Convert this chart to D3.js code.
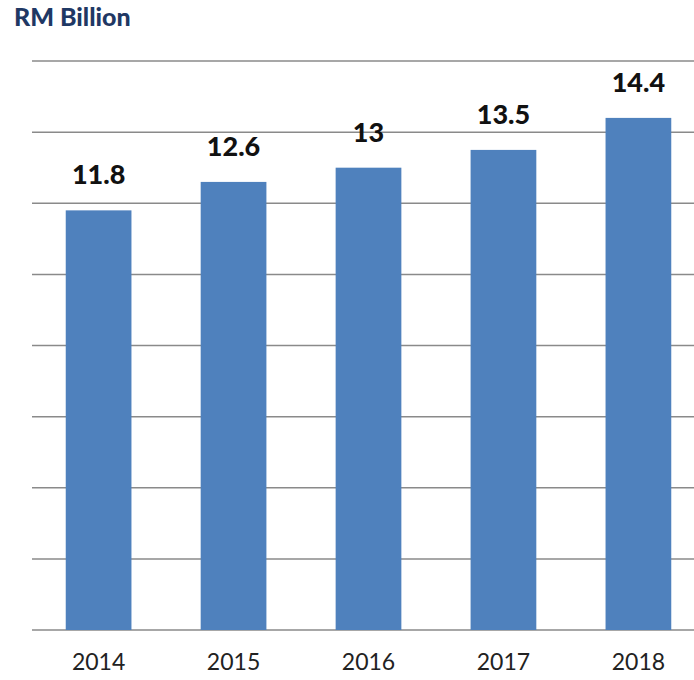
<!DOCTYPE html>
<html>
<head>
<meta charset="utf-8">
<script src="https://cdn.jsdelivr.net/npm/d3@7"></script>
<style>
  body { margin: 0; background: #fff; }
  #chart { width: 694px; height: 680px; }
</style>
</head>
<body>
<div id="chart"></div>
<script>
// data
var years = ["2014", "2015", "2016", "2017", "2018"];
var values = [11.8, 12.6, 13, 13.5, 14.4];
var gridTicks = [0, 2, 4, 6, 8, 10, 12, 14, 16];
var unitLabel = "RM Billion";

var width = 694, height = 680;
var margin = { top: 61, right: -11, bottom: 50, left: 32 };

var svg = d3.select("#chart")
  .append("svg")
  .attr("width", width)
  .attr("height", height);

// title
svg.append("text")
  .attr("x", 14)
  .attr("y", 26)
  .style("font-family", "Lato, 'Open Sans', sans-serif")
  .style("font-weight", "900")
  .style("font-size", "25px")
  .style("fill", "#1f3864")
  .text(unitLabel);

var x = d3.scaleBand()
  .domain(years)
  .range([margin.left, width - margin.right])
  .paddingInner(0.513)
  .paddingOuter(0.25);

var y = d3.scaleLinear()
  .domain([0, 16])
  .range([height - margin.bottom, margin.top]);

// gridlines
svg.append("g")
  .selectAll("line")
  .data(gridTicks)
  .enter()
  .append("line")
  .attr("x1", margin.left)
  .attr("x2", width)
  .attr("y1", function (d) { return y(d); })
  .attr("y2", function (d) { return y(d); })
  .style("stroke", "#8a8a8a")
  .style("stroke-width", 1.5);

// bars
svg.append("g")
  .selectAll("rect")
  .data(values)
  .enter()
  .append("rect")
  .attr("x", function (d, i) { return x(years[i]); })
  .attr("width", x.bandwidth())
  .attr("y", function (d) { return y(d); })
  .attr("height", function (d) { return y(0) - y(d); })
  .style("fill", "#4f81bd");

// value labels
svg.append("g")
  .selectAll("text")
  .data(values)
  .enter()
  .append("text")
  .attr("x", function (d, i) { return x(years[i]) + x.bandwidth() / 2; })
  .attr("y", function (d) { return y(d) - 26; })
  .attr("text-anchor", "middle")
  .style("font-family", "Lato, 'Open Sans', sans-serif")
  .style("font-weight", "900")
  .style("font-size", "27px")
  .style("fill", "#111")
  .text(function (d) { return d; });

// x axis labels
var xAxis = svg.append("g")
  .attr("transform", "translate(0," + y(0) + ")")
  .call(d3.axisBottom(x).tickSize(0).tickPadding(24));
xAxis.select(".domain").remove();
xAxis.selectAll("text")
  .style("font-family", "Lato, 'Open Sans', sans-serif")
  .style("font-size", "23px")
  .style("fill", "#222");
</script>
</body>
</html>
